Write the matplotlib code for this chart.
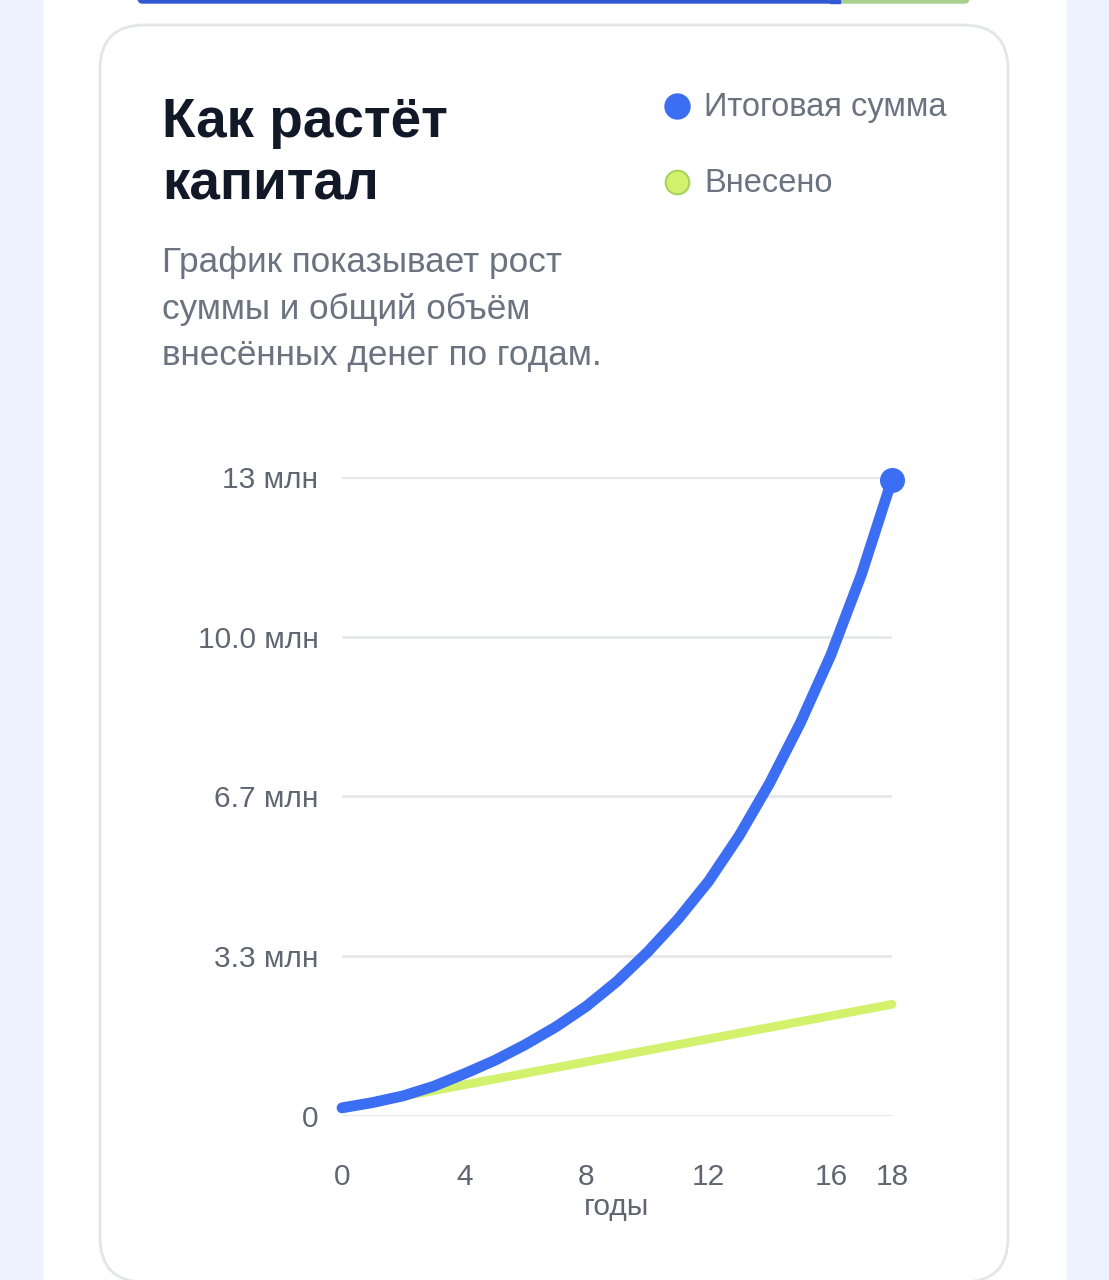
import matplotlib

matplotlib.use("Agg")
import matplotlib.pyplot as plt
from matplotlib.patches import FancyBboxPatch, Rectangle

W, H = 1109, 1280

years = list(range(19))
# значения в млн
total = [0.17, 0.28, 0.42, 0.62, 0.88, 1.16, 1.49, 1.86, 2.29, 2.81, 3.42,
         4.11, 4.90, 5.85, 6.95, 8.20, 9.62, 11.30, 13.28]
deposited = [0.17, 0.29, 0.41, 0.53, 0.65, 0.77, 0.89, 1.01, 1.13, 1.25, 1.37,
             1.49, 1.61, 1.73, 1.85, 1.97, 2.09, 2.21, 2.33]
ytick_vals = [0, 3.333, 6.667, 10.0, 13.333]
ytick_labels = ["0", "3.3 млн", "6.7 млн", "10.0 млн", "13 млн"]
xtick_vals = [0, 4, 8, 12, 16, 18]

BLUE = "#3b6ef2"
LIME = "#d2f26e"
GRID = "#e6e7eb"
MUTED = "#6b7280"
TICK = "#5f6672"

plt.rcParams["font.family"] = ["Liberation Sans", "DejaVu Sans"]


def fx(x):
    return x / W


def fy(y):
    return 1 - y / H


fig = plt.figure(figsize=(W / 100, H / 100), dpi=100)
fig.patch.set_facecolor("white")

# фон страницы
fig.patches.append(Rectangle((0, 0), fx(42), 1, transform=fig.transFigure, color="#edf2fe", zorder=-3))
fig.patches.append(Rectangle((fx(1067), 0), 1 - fx(1067), 1, transform=fig.transFigure, color="#edf2fe", zorder=-3))

# полоса сверху
fig.patches.append(FancyBboxPatch((fx(138), fy(3)), fx(840) - fx(138), 0.02,
                                  boxstyle="round,pad=0,rounding_size=0.004",
                                  transform=fig.transFigure, color="#3358d4", zorder=-2))
fig.patches.append(FancyBboxPatch((fx(830), fy(3)), fx(969) - fx(830), 0.02,
                                  boxstyle="round,pad=0,rounding_size=0.004",
                                  transform=fig.transFigure, color="#a9d18e", zorder=-2))
fig.patches.append(Rectangle((fx(830), fy(3)), fx(840) - fx(830), 0.02,
                             transform=fig.transFigure, color="#3358d4", zorder=-2))

# карточка
fig.patches.append(FancyBboxPatch((fx(100), fy(1282)), fx(1008) - fx(100), fy(25) - fy(1282),
                                  boxstyle="round,pad=0,rounding_size=0.04",
                                  mutation_aspect=W / H,
                                  transform=fig.transFigure, facecolor="white",
                                  edgecolor="#e4e5e9", linewidth=2, zorder=-1))

# заголовок и подпись
fig.text(fx(162), fy(137), "Как растёт", fontsize=39.5, fontweight="bold", color="#111827", va="baseline")
fig.text(fx(162), fy(200), "капитал", fontsize=39.5, fontweight="bold", color="#111827", va="baseline")
for i, line in enumerate(["График показывает рост", "суммы и общий объём", "внесённых денег по годам."]):
    fig.text(fx(162), fy(272 + i * 46.5), line, fontsize=25.3, color=MUTED, va="baseline")

# легенда
fig.text(fx(704), fy(116), "Итоговая сумма", fontsize=23.5, color=MUTED, va="baseline")
fig.text(fx(704), fy(192), "Внесено", fontsize=23.5, color=MUTED, va="baseline")

ax = fig.add_axes([fx(342), fy(1116), fx(892) - fx(342), fy(477) - fy(1116)])
ax.set_facecolor("none")
ax.set_xlim(0, 18)
ax.set_ylim(0, 13.333)
for v in ytick_vals:
    ax.axhline(v, color=GRID, linewidth=2, zorder=1)
ax.plot(years, deposited, color=LIME, linewidth=6.3, solid_capstyle="round",
        solid_joinstyle="round", clip_on=False, zorder=3)
ax.plot(years, total, color=BLUE, linewidth=7.8, solid_capstyle="round",
        solid_joinstyle="round", clip_on=False, zorder=4)
ax.plot([years[-1]], [total[-1]], "o", color=BLUE, markersize=17, clip_on=False, zorder=5)

ax.set_yticks(ytick_vals, ytick_labels)
ax.set_xticks(xtick_vals, [str(v) for v in xtick_vals])
ax.tick_params(axis="y", length=0, pad=17, labelsize=21.5, labelcolor=TICK)
ax.tick_params(axis="x", length=0, pad=34, labelsize=21.5, labelcolor=TICK)
for s in ax.spines.values():
    s.set_visible(False)

fig.text(fx(617), fy(1207), "годы", fontsize=21.5, color=TICK, ha="center", va="center")

# кружки легенды
lax = fig.add_axes([0, 0, 1, 1])
lax.set_xlim(0, W)
lax.set_ylim(H, 0)
lax.axis("off")
lax.plot([677], [106], "o", markersize=18, color=BLUE)
lax.plot([677], [182], "o", markersize=17, markerfacecolor=LIME, markeredgecolor="#a8d35a", markeredgewidth=1.5)

fig.savefig("out.png", dpi=100)
